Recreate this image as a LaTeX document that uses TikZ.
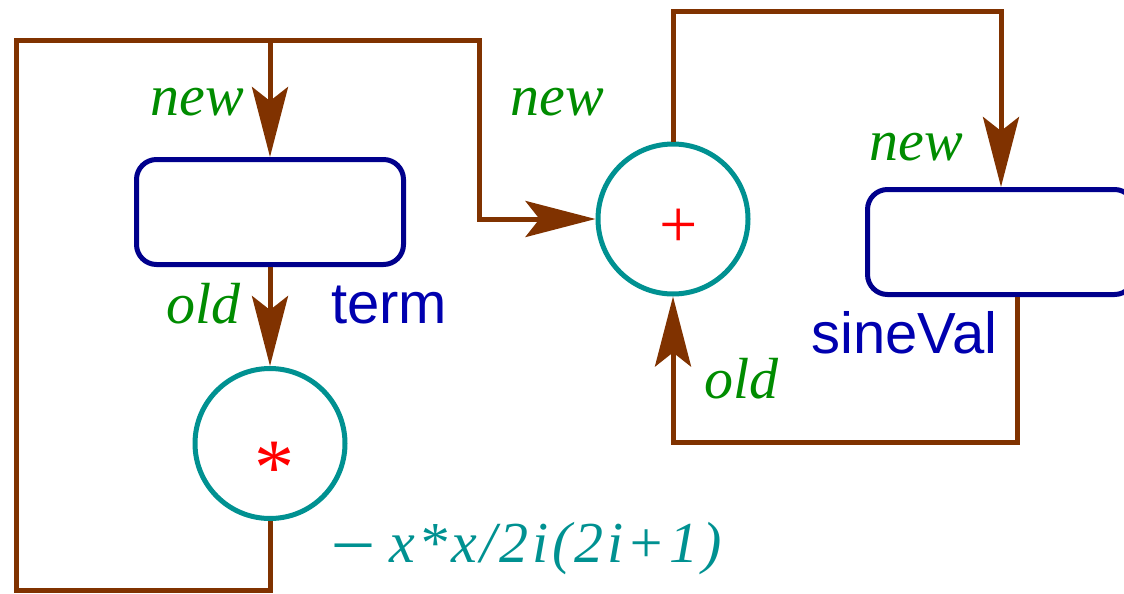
\documentclass[tikz,border=0pt]{standalone}
\usepackage{fontspec}
\setmainfont{Liberation Serif}
\setsansfont{Liberation Sans}
\newfontfamily\formulafont{Liberation Serif}[LetterSpace=6]
\usetikzlibrary{arrows.meta}
\definecolor{flowbrown}{RGB}{128,50,0}
\definecolor{labgreen}{RGB}{0,140,0}
\definecolor{boxblue}{RGB}{0,0,140}
\definecolor{textblue}{RGB}{0,0,175}
\definecolor{opteal}{RGB}{0,145,145}
\definecolor{opred}{RGB}{255,0,0}
\begin{document}
\begin{tikzpicture}[x=0.5pt,y=-0.5pt,
  flow/.style={draw=flowbrown, line width=2.5pt},
  tip/.style={-{Stealth[length=35pt,width=18pt,inset=7pt]}},
  store/.style={draw=boxblue, line width=2.5pt, rounded corners=10pt,
    minimum width=133.5pt, minimum height=52.5pt, inner sep=0pt},
  op/.style={circle, draw=opteal, line width=2.5pt, minimum size=75pt, inner sep=0pt},
  edgelab/.style={anchor=base, text=labgreen, font=\fontsize{29}{34}\selectfont\itshape},
  varlab/.style={anchor=base, text=textblue, font=\fontsize{29}{34}\selectfont\sffamily},
  opsym/.style={text=opred, inner sep=0pt, anchor=base}]
\useasboundingbox (0,0) rectangle (1124,594);
\clip (0,0) rectangle (1124,594);

% nodes
\node[store] (term) at (270,212) {};
\node[store] (sine) at (1001,242) {};
\node[op] (mult) at (270,443.5) {};
\node[op] (plus) at (673,219) {};

% symbols inside operators
\node[opsym, font=\fontsize{34}{40}\selectfont] (plussym) at (679,247) {+};
\node[opsym, font=\fontsize{40}{46}\selectfont] (multsym) at (274.5,494) {*};

% connectors
\coordinate (j) at (270,40);
\draw[flow] (mult.south) |- (16,590) |- (j);
\draw[flow,tip] (j) -- (term.north);
\draw[flow,tip] (j) -- (479,40) |- (plus.west);
\draw[flow,tip] (term.south) -- (mult.north);
\draw[flow,tip] (plus.north) |- (sine.north |- 0,11) -- (sine.north);
\coordinate (sb) at ([xshift=8pt]sine.south);
\draw[flow,tip] (sb) |- (plus.south |- 0,442) -- (plus.south);

% labels
\node[edgelab] (new1) at (197.5,115) {new};
\node[edgelab] (new2) at (557.5,115) {new};
\node[edgelab] (new3) at (916,160) {new};
\node[edgelab] (old1) at (203.5,323) {old};
\node[edgelab] (old2) at (741.5,398) {old};
\node[varlab] (termlab) at (389,323) {term};
\node[varlab] (sinelab) at (904.5,353) {sineVal};
\node[anchor=base west, inner sep=0pt, text=opteal, font=\fontsize{29}{34}\selectfont] (formula) at (335,562)
  {{\fontsize{36}{40}\selectfont –}\hspace{9pt}{\formulafont\itshape x*x/2i(2i+1)}};
\end{tikzpicture}
\end{document}
